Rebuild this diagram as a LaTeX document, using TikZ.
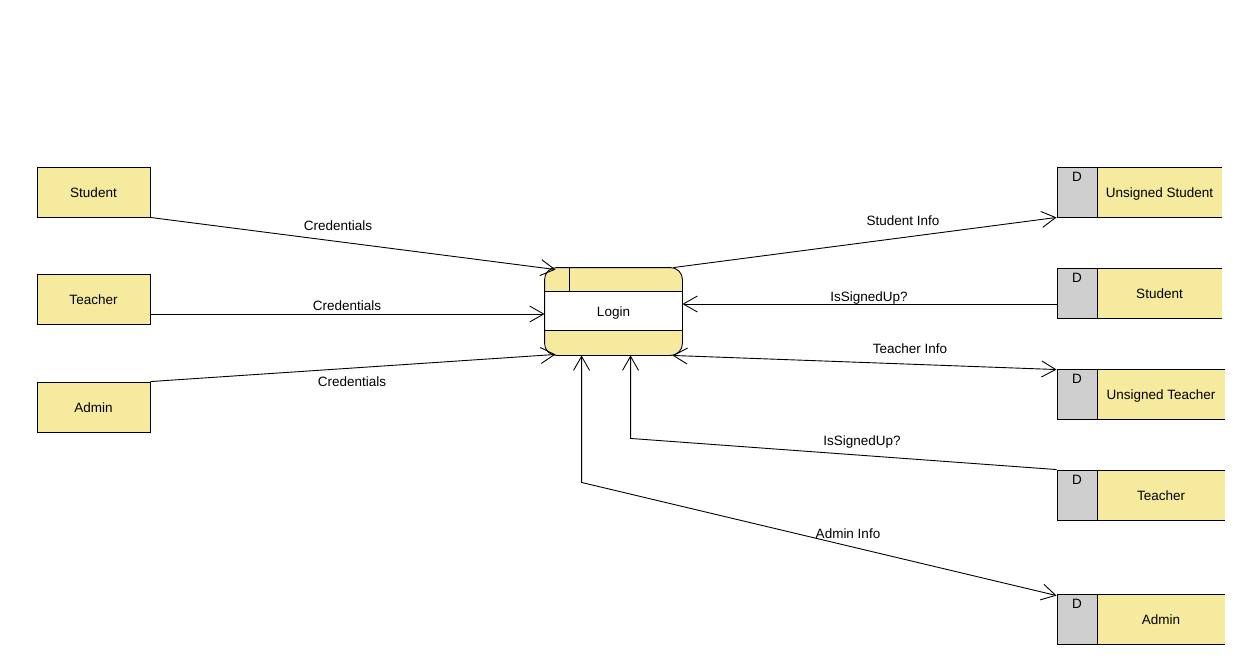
\documentclass[tikz,border=0pt]{standalone}
\usepackage{fontspec}
\setmainfont{Liberation Sans}
\usetikzlibrary{arrows.meta,calc}
\definecolor{dfdyellow}{RGB}{245,234,157}
\definecolor{dfdgray}{RGB}{207,207,207}

% data store: name, centre y, right end x, label
\newcommand\dfdstore[4]{%
  \fill[dfdyellow] (1097,{#2-25}) rectangle (#3,{#2+25});
  \draw (1097,{#2-25}) -- (#3,{#2-25}) (1097,{#2+25}) -- (#3,{#2+25});
  \node[storeid] (#1) at (1077,#2) {};
  \node at ([yshift=-10]#1.north) {D};
  \node at ({(1097+#3)/2},#2) {#4};
}

\begin{document}
\begin{tikzpicture}[x=1pt,y=-1pt,
  font=\fontsize{13.5}{16}\selectfont, line width=0.9pt,
  every node/.append style={text height=12pt, text depth=2pt},
  entity/.style={draw, fill=dfdyellow, minimum width=113pt, minimum height=50pt, inner sep=0pt},
  storeid/.style={draw, fill=dfdgray, minimum width=40pt, minimum height=50pt, inner sep=0pt},
  flow/.style={draw, -{Straight Barb[length=14pt,width=16pt]}},
  flowboth/.style={draw, {Straight Barb[length=14pt,width=16pt]}-{Straight Barb[length=14pt,width=16pt]}},
  lbl/.style={inner sep=0pt}]

\useasboundingbox (0,0) rectangle (1249,669);

% external entities
\node[entity] (stu) at (93.5,192) {Student};
\node[entity] (tea) at (93.5,299) {Teacher};
\node[entity] (adm) at (93.5,407) {Admin};

% process
\node[fill=dfdyellow, rounded corners=12pt, minimum width=137pt, minimum height=87pt, inner sep=0pt] (login) at (613.5,311.5) {};
\fill[white] ([yshift=-24]login.north west) rectangle ([yshift=25]login.south east);
\draw ([yshift=-24]login.north west) -- ([yshift=-24]login.north east)
      ([yshift=25]login.south west) -- ([yshift=25]login.south east)
      ([xshift=25]login.north west) -- ([xshift=25,yshift=-24]login.north west);
\draw[rounded corners=12pt] (login.north west) rectangle (login.south east);
\node at (login.center) {Login};

% data stores
\dfdstore{ds1}{192}{1222}{Unsigned Student}
\dfdstore{ds2}{293}{1222}{Student}
\dfdstore{ds3}{394}{1225}{Unsigned Teacher}
\dfdstore{ds4}{495}{1225}{Teacher}
\dfdstore{ds5}{619}{1225}{Admin}

% flows from entities
\path[flow] (stu.south east) -- ([xshift=11,yshift=-2]login.north west);
\path[flow] ([yshift=-15]tea.east) -- ([yshift=-2.5]login.west);
\path[flow] (adm.north east) -- ([xshift=11,yshift=1]login.south west);
\node[lbl] at (338,225) {Credentials};
\node[lbl] at (347,305) {Credentials};
\node[lbl] at (352,381) {Credentials};

% flows to and from stores
\path[flow] ([xshift=-9]login.north east) -- (ds1.south west);
\node[lbl] at (903,220) {Student Info};

\path[flow] ([yshift=-11]ds2.west) -- ([yshift=7.5]login.east);
\node[lbl] at (869,296) {IsSignedUp?};

\path[flowboth] ([xshift=-10]login.south east) -- ([yshift=-1]ds3.north west);
\node[lbl] at (910,348) {Teacher Info};

\coordinate (bendT) at ($(login.south west)+(86,83)$);
\path[flow] (ds4.north west) -- (bendT) -- ([xshift=86]login.south west);
\node[lbl] at (862,440) {IsSignedUp?};

\coordinate (bendA) at ($(login.south west)+(37,127)$);
\path[flowboth] ([yshift=-2]ds5.north west) -- (bendA) -- ([xshift=37]login.south west);
\node[lbl] at (848,533) {Admin Info};

\end{tikzpicture}
\end{document}
